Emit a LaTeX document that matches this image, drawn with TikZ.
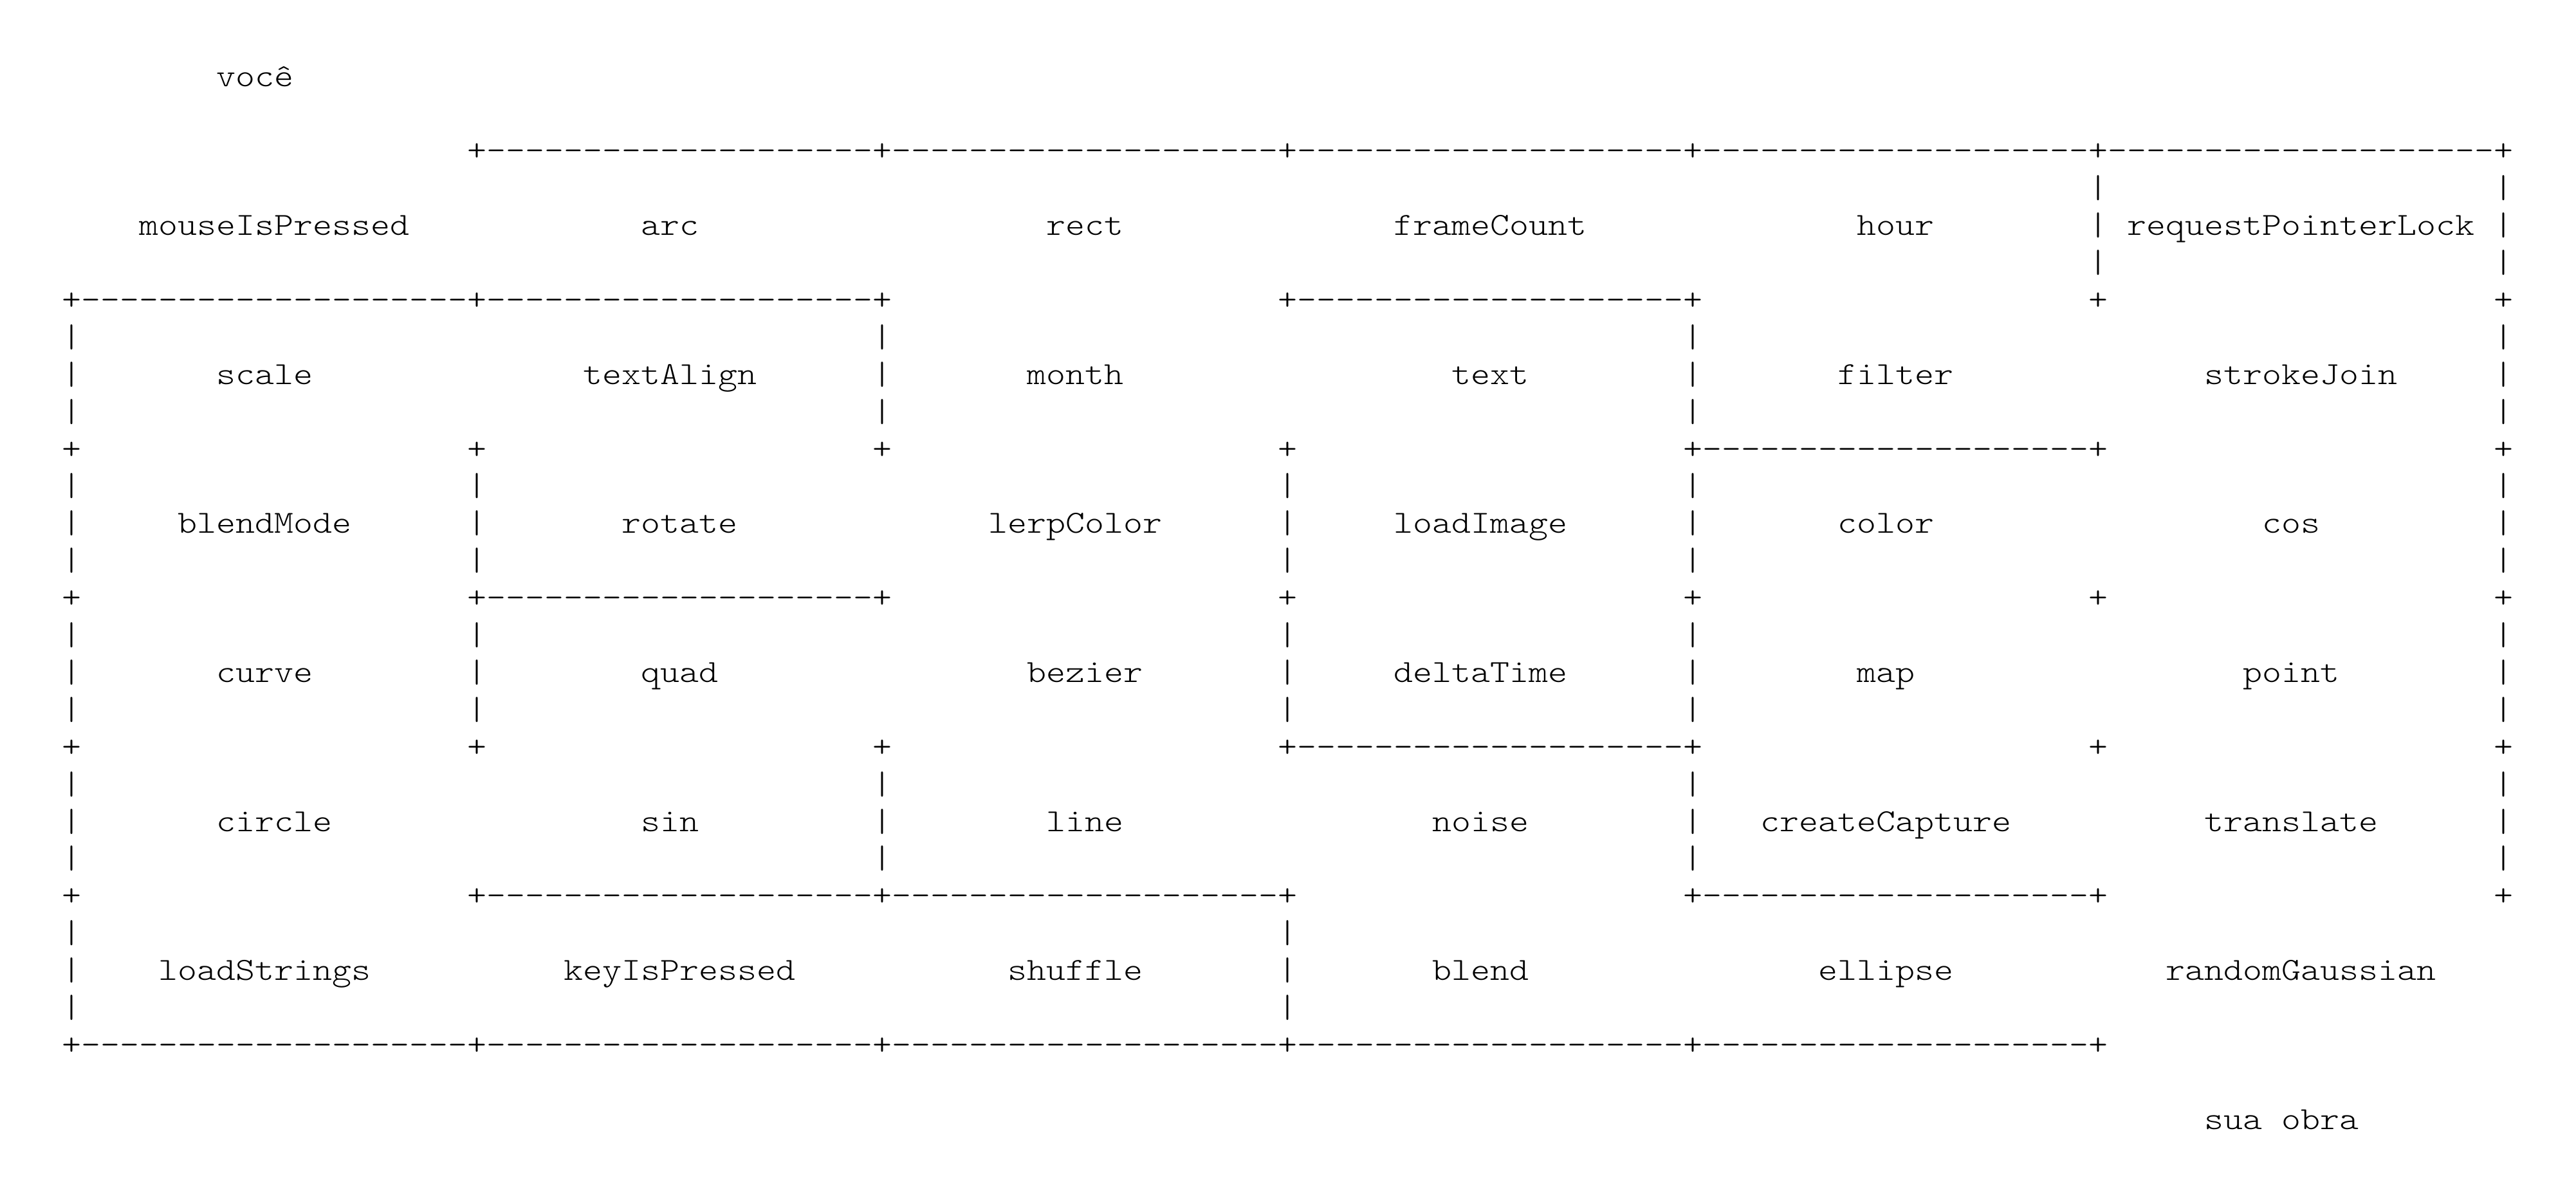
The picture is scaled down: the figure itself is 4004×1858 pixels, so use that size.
\documentclass[tikz,border=0pt]{standalone}
\usepackage{fontspec}
% light typewriter face widened so that one character cell is 0.6em
\setmonofont{lmmonolt10-regular.otf}[FakeStretch=1.142857]

% one wall segment: a corner followed by twenty dashes (kerns keep the dashes apart)
\newcommand\hy{-\kern0pt}
\newcommand\run{+\hy\hy\hy\hy\hy\hy\hy\hy\hy\hy\hy\hy\hy\hy\hy\hy\hy\hy\hy\hy}

\tikzset{
  ascii/.style={anchor=base west, inner sep=0pt, outer sep=0pt,
                font=\ttfamily\fontsize{10pt}{12pt}\selectfont},
}
% text at character column #2 of line #3
\newcommand\chr[4]{\node[ascii] (#1) at ({96.8+30*(#2)},{134+57.9*(#3)}) {#4};}

\begin{document}
\begin{tikzpicture}[x=0.2pt, y=-0.2pt]
  \useasboundingbox[fill=white] (0,0) rectangle (4004,1858);

  % entrance and exit
  \chr{you}{8}{0}{você}
  \chr{work}{111}{28}{sua obra}

  % horizontal walls
  \chr{w2a}{21}{2}{\run\run\run\run\run+}
  \chr{w6a}{0}{6}{\run\run+}
  \chr{w6b}{63}{6}{\run+}
  \chr{w10a}{84}{10}{\run+}
  \chr{w14a}{21}{14}{\run+}
  \chr{w18a}{63}{18}{\run+}
  \chr{w22a}{21}{22}{\run\run+}
  \chr{w22b}{84}{22}{\run+}
  \chr{w26a}{0}{26}{\run\run\run\run\run+}

  % lone corners
  \foreach \l/\cols in {6/{105,126}, 10/{0,21,42,63,126}, 14/{0,63,84,105,126},
                        18/{0,21,42,105,126}, 22/{0,126}} {
    \foreach \c in \cols {
      \node[ascii] (p\l-\c) at ({96.8+30*\c},{134+57.9*\l}) {+};
    }
  }

  % vertical walls, three lines per cell row
  \foreach \l/\cols in {4/{105,126}, 8/{0,42,84,126}, 12/{0,21,63,84,126},
                        16/{0,21,63,84,126}, 20/{0,42,84,126}, 24/{0,63}} {
    \foreach \d/\t in {-1/a, 0/b, 1/c} {
      \foreach \c in \cols {
        \node[ascii] (v\l\t-\c) at ({96.8+30*\c},{134+57.9*(\l+\d)}) {|};
      }
    }
  }

  % cell names, row by row
  \chr{mouseIsPressed}{4}{4}{mouseIsPressed}
  \chr{arc}{30}{4}{arc}
  \chr{rect}{51}{4}{rect}
  \chr{frameCount}{69}{4}{frameCount}
  \chr{hour}{93}{4}{hour}
  \chr{requestPointerLock}{107}{4}{requestPointerLock}

  \chr{scale}{8}{8}{scale}
  \chr{textAlign}{27}{8}{textAlign}
  \chr{month}{50}{8}{month}
  \chr{text}{72}{8}{text}
  \chr{filter}{92}{8}{filter}
  \chr{strokeJoin}{111}{8}{strokeJoin}

  \chr{blendMode}{6}{12}{blendMode}
  \chr{rotate}{29}{12}{rotate}
  \chr{lerpColor}{48}{12}{lerpColor}
  \chr{loadImage}{69}{12}{loadImage}
  \chr{color}{92}{12}{color}
  \chr{cos}{114}{12}{cos}

  \chr{curve}{8}{16}{curve}
  \chr{quad}{30}{16}{quad}
  \chr{bezier}{50}{16}{bezier}
  \chr{deltaTime}{69}{16}{deltaTime}
  \chr{map}{93}{16}{map}
  \chr{point}{113}{16}{point}

  \chr{circle}{8}{20}{circle}
  \chr{sin}{30}{20}{sin}
  \chr{line}{51}{20}{line}
  \chr{noise}{71}{20}{noise}
  \chr{createCapture}{88}{20}{createCapture}
  \chr{translate}{111}{20}{translate}

  \chr{loadStrings}{5}{24}{loadStrings}
  \chr{keyIsPressed}{26}{24}{keyIsPressed}
  \chr{shuffle}{49}{24}{shuffle}
  \chr{blend}{71}{24}{blend}
  \chr{ellipse}{91}{24}{ellipse}
  \chr{randomGaussian}{109}{24}{randomGaussian}
\end{tikzpicture}
\end{document}
